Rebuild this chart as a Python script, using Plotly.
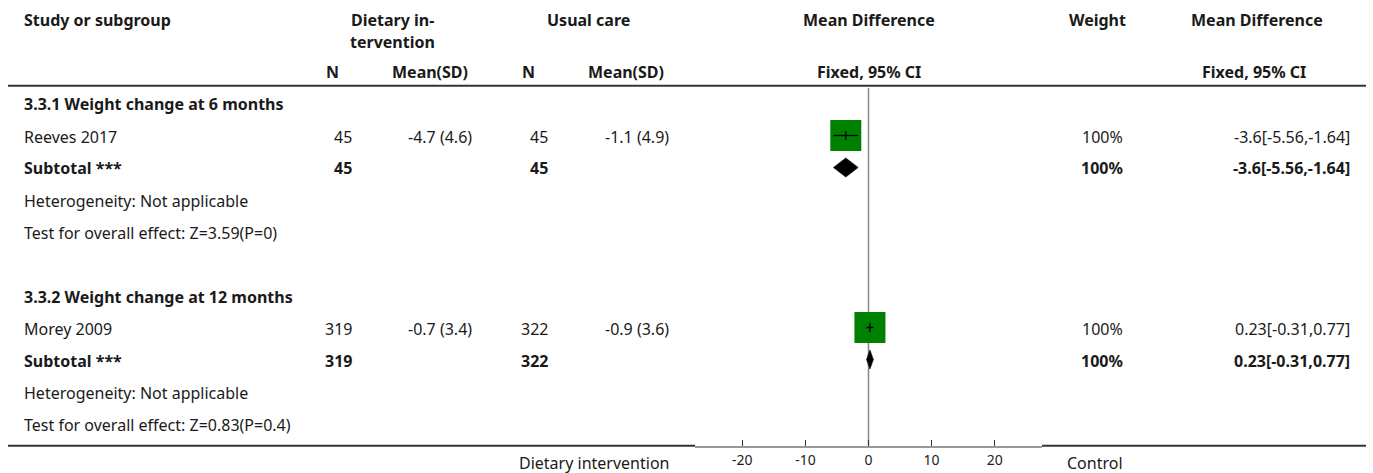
import plotly.graph_objects as go

# ---- data -------------------------------------------------------------
subgroups = ["3.3.1 Weight change at 6 months", "3.3.2 Weight change at 12 months"]
studies = ["Reeves 2017", "Morey 2009"]
n_diet = [45, 319]
mean_diet = [-4.7, -0.7]
sd_diet = [4.6, 3.4]
n_care = [45, 322]
mean_care = [-1.1, -0.9]
sd_care = [4.9, 3.6]
weights = [100, 100]
md = [-3.6, 0.23]
ci_low = [-5.56, -0.31]
ci_high = [-1.64, 0.77]
z_stat = [3.59, 0.83]
p_val = ["0", "0.4"]
x_ticks = [-20, -10, 0, 10, 20]
x_range = [-27.5, 27.5]

# ---- layout constants (pixels) ---------------------------------------
W, H = 1373, 473
FONT = "Noto Sans"
FS = 16
TXT = "#1a1a1a"
GREEN = "#008000"
AXIS_Y = 445.7
ROW0, ROW_STEP = 104.5, 32
COL_LEFT = 22
COL_N1, COL_M1, COL_N2, COL_M2 = 354, 474, 550, 671
COL_W, COL_CI = 1125, 1352
PLOT_L, PLOT_R = 695, 1042
BOX = 31
DIA_H = 9.5


def px(x):
    return x / W


def py(y):
    return 1 - y / H


def row_y(i):
    return ROW0 + ROW_STEP * i


annotations = []


def text(x, y, s, anchor="left", bold=False, size=FS, color=TXT):
    annotations.append(dict(
        x=px(x), y=py(y), xref="paper", yref="paper",
        text=f"<b>{s}</b>" if bold else s, showarrow=False,
        xanchor=anchor, yanchor="middle",
        font=dict(family=FONT, size=size, color=color),
    ))


def fmt_ci(m, lo, hi):
    return f"{m:g}[{lo:g},{hi:g}]"


# ---- header -----------------------------------------------------------
text(COL_LEFT, 20, "Study or subgroup", bold=True)
text(392, 20, "Dietary in-", "center", bold=True)
text(392, 42, "tervention", "center", bold=True)
text(588, 20, "Usual care", "center", bold=True)
text(869, 20, "Mean Difference", "center", bold=True)
text(1097, 20, "Weight", "center", bold=True)
text(1257, 20, "Mean Difference", "center", bold=True)
text(332, 72, "N", "center", bold=True)
text(430, 72, "Mean(SD)", "center", bold=True)
text(528, 72, "N", "center", bold=True)
text(626, 72, "Mean(SD)", "center", bold=True)
text(869, 72, "Fixed, 95% CI", "center", bold=True)
text(1254, 72, "Fixed, 95% CI", "center", bold=True)

fig = go.Figure()

# ---- subgroup blocks --------------------------------------------------
for g in range(len(studies)):
    base = 6 * g
    y_title, y_study, y_sub, y_het, y_test = (row_y(base + k) for k in range(5))

    text(COL_LEFT, y_title, subgroups[g], bold=True)

    text(COL_LEFT, y_study, studies[g])
    text(COL_N1, y_study, str(n_diet[g]), "right")
    text(COL_M1, y_study, f"{mean_diet[g]:g} ({sd_diet[g]:g})", "right")
    text(COL_N2, y_study, str(n_care[g]), "right")
    text(COL_M2, y_study, f"{mean_care[g]:g} ({sd_care[g]:g})", "right")
    text(COL_W, y_study, f"{weights[g]:g}%", "right")
    text(COL_CI, y_study, fmt_ci(md[g], ci_low[g], ci_high[g]), "right")

    text(COL_LEFT, y_sub, "Subtotal ***", bold=True)
    text(COL_N1, y_sub, str(n_diet[g]), "right", bold=True)
    text(COL_N2, y_sub, str(n_care[g]), "right", bold=True)
    text(COL_W, y_sub, f"{weights[g]:g}%", "right", bold=True)
    text(COL_CI, y_sub, fmt_ci(md[g], ci_low[g], ci_high[g]), "right", bold=True)

    text(COL_LEFT, y_het, "Heterogeneity: Not applicable")
    text(COL_LEFT, y_test, f"Test for overall effect: Z={z_stat[g]:g}(P={p_val[g]})")

    # study square, weighted box
    ym = y_study - 1
    fig.add_trace(go.Scatter(
        x=[md[g]], y=[ym], mode="markers",
        marker=dict(symbol="square", size=BOX, color=GREEN, line=dict(width=0)),
        hoverinfo="skip", showlegend=False,
    ))
    # confidence interval and point tick
    fig.add_trace(go.Scatter(
        x=[ci_low[g], ci_high[g]], y=[ym, ym], mode="lines",
        line=dict(color="black", width=1.3), hoverinfo="skip", showlegend=False,
    ))
    fig.add_trace(go.Scatter(
        x=[md[g], md[g]], y=[ym - 4.5, ym + 4.5], mode="lines",
        line=dict(color="black", width=1.3), hoverinfo="skip", showlegend=False,
    ))
    # pooled diamond
    yd = y_sub - 1
    fig.add_trace(go.Scatter(
        x=[ci_low[g], md[g], ci_high[g], md[g], ci_low[g]],
        y=[yd, yd - DIA_H, yd, yd + DIA_H, yd],
        mode="lines", fill="toself", fillcolor="black",
        line=dict(color="black", width=0.6), hoverinfo="skip", showlegend=False,
    ))

# ---- footer labels ----------------------------------------------------
text(594, 463, "Dietary intervention", "center")
text(1095, 463, "Control", "center")

shapes = [
    # rule under the header
    dict(type="line", xref="paper", yref="paper", x0=px(8), x1=px(1366),
         y0=py(85.7), y1=py(85.7), line=dict(color="#333", width=2)),
    # bottom rule, either side of the axis
    dict(type="line", xref="paper", yref="paper", x0=px(8), x1=px(PLOT_L),
         y0=py(AXIS_Y), y1=py(AXIS_Y), line=dict(color="#333", width=2)),
    dict(type="line", xref="paper", yref="paper", x0=px(PLOT_R), x1=px(1366),
         y0=py(AXIS_Y), y1=py(AXIS_Y), line=dict(color="#333", width=2)),
    # line of no effect
    dict(type="line", xref="x", yref="y", x0=0, x1=0, y0=88, y1=AXIS_Y,
         line=dict(color="#888", width=1.5), layer="below"),
]

fig.update_layout(
    width=W, height=H,
    margin=dict(l=0, r=0, t=0, b=0),
    paper_bgcolor="white", plot_bgcolor="white",
    annotations=annotations, shapes=shapes,
    xaxis=dict(
        domain=[px(PLOT_L), px(PLOT_R)], range=x_range,
        tickvals=x_ticks, ticktext=[str(t) for t in x_ticks],
        ticks="inside", ticklen=6, tickwidth=1, tickcolor="#333",
        showline=True, linecolor="#999", linewidth=2,
        showgrid=False, zeroline=False, fixedrange=True,
        tickfont=dict(family=FONT, size=14, color="#222"),
    ),
    yaxis=dict(
        domain=[1 - AXIS_Y / H, 1], range=[AXIS_Y, 0],
        visible=False, showgrid=False, zeroline=False, fixedrange=True,
    ),
    font=dict(family=FONT, color=TXT),
)

fig.write_html("out.html")
